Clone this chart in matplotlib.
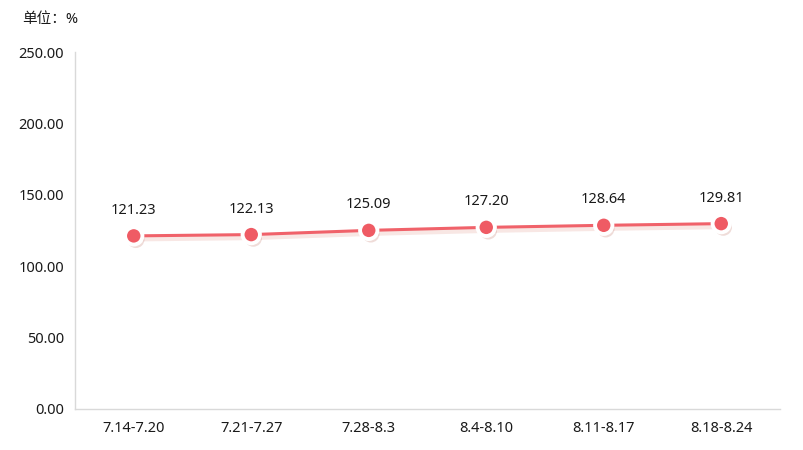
import matplotlib
matplotlib.use("Agg")
import matplotlib.pyplot as plt
import matplotlib.patheffects as pe

plt.rcParams['font.family'] = ['Noto Sans', 'Noto Sans CJK SC', 'DejaVu Sans']

categories = ["7.14-7.20", "7.21-7.27", "7.28-8.3", "8.4-8.10", "8.11-8.17", "8.18-8.24"]
values = [121.23, 122.13, 125.09, 127.20, 128.64, 129.81]
yticks = [0, 50, 100, 150, 200, 250]

fig = plt.figure(figsize=(8.04, 4.5), dpi=100)
ax = fig.add_axes([75/804, 1-409/450, (780-75)/804, (409-52)/450])

x = list(range(len(categories)))
line_color = '#f0626a'
ax.plot(x, values, color=line_color, lw=2.2, zorder=2,
        path_effects=[pe.SimpleLineShadow(offset=(1, -2), shadow_color='#d06050', alpha=0.15, rho=0.5, linewidth=4), pe.Normal()])
ax.plot(x, values, 'o', ms=12.5, mfc='#ef5b64', mec='white', mew=2.8, zorder=3,
        path_effects=[pe.SimplePatchShadow(offset=(1.5, -2.5), shadow_rgbFace='#b05040', alpha=0.2), pe.Normal()])

for xi, v in zip(x, values):
    ax.annotate(f"{v:.2f}", (xi, v), xytext=(0, 13), textcoords='offset points',
                ha='center', va='bottom', fontsize=10.5, color='#1a1a1a')

ax.set_xlim(-0.5, len(categories) - 0.5)
ax.set_ylim(0, 250)
ax.set_yticks(yticks)
ax.set_yticklabels([f"{t:.2f}" for t in yticks], fontsize=10.5, color='#1a1a1a')
ax.set_xticks(x)
ax.set_xticklabels(categories, fontsize=10.5, color='#1a1a1a')
ax.tick_params(length=0, pad=8)
ax.tick_params(axis='x', pad=9)
for s in ['top', 'right']:
    ax.spines[s].set_visible(False)
for s in ['left', 'bottom']:
    ax.spines[s].set_color('#d9d9d9')
    ax.spines[s].set_linewidth(1)

fig.text(22/804, 1-20/450, "单位：%", fontsize=10.5, color='#1a1a1a', va='center', ha='left')

fig.savefig("out.png", dpi=100)
